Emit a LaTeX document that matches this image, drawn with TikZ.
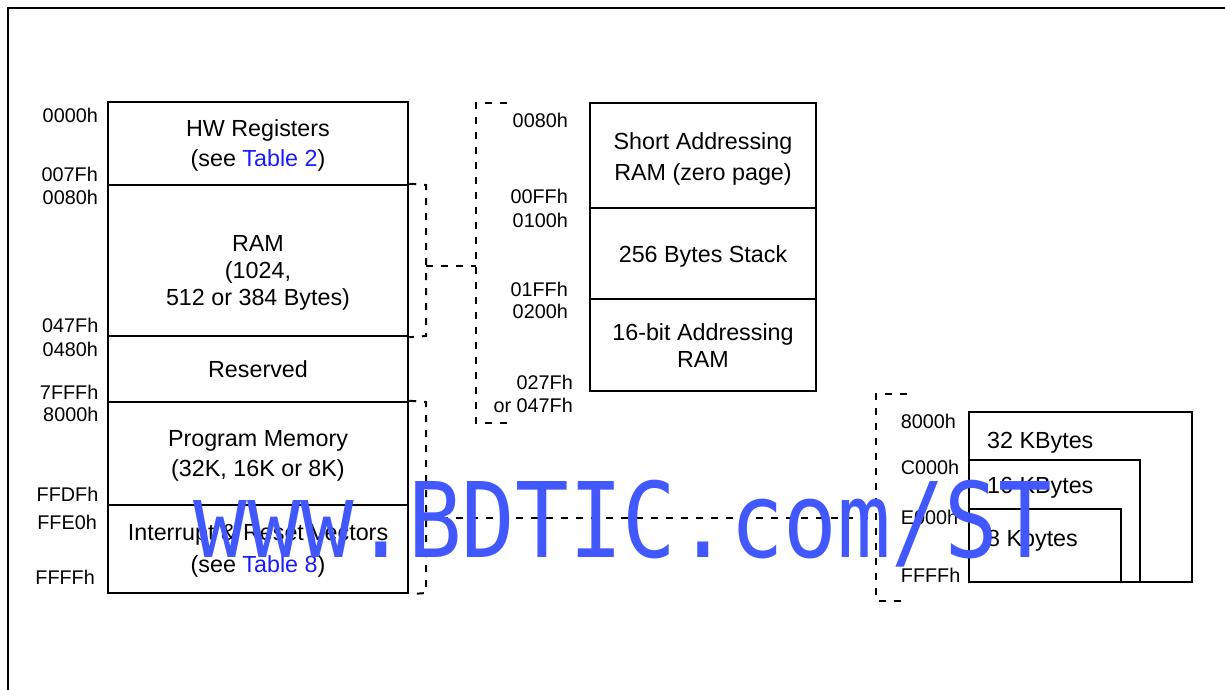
\documentclass[tikz,border=0pt]{standalone}
\usepackage{fontspec}
\usepackage{graphicx}
\setmainfont{Liberation Sans}
\newfontfamily\wmfont{DejaVu Sans Mono}
\definecolor{linkblue}{RGB}{26,26,255}
\definecolor{wmblue}{RGB}{66,88,255}
\begin{document}
\begin{tikzpicture}[x=1pt,y=-1pt,
  boxonly/.style={draw,line width=2.5pt,inner sep=0pt},
  addr/.style={inner sep=0pt,font=\fontsize{19.8}{22}\selectfont},
  txt/.style={inner sep=0pt,align=center,font=\fontsize{23.3}{30.5}\selectfont},
  dashline/.style={line width=2pt,dash pattern=on 7pt off 8pt},
  frameline/.style={line width=2pt}]
\useasboundingbox (0,0) rectangle (1225,690);
% frame
\coordinate (fbl) at (8,690);
\coordinate (ftl) at (8,8);
\coordinate (ftr) at (1225,8);
\draw[frameline] (fbl) -- (ftl) -- (ftr);

% left column
\node[boxonly,minimum width=300pt,minimum height=83pt] (hw) at (258,143.5) {};
\node[txt,yshift=-2pt] (hwtext) at (hw) {HW Registers\\(see \textcolor{linkblue}{Table 2})};
\node[boxonly,minimum width=300pt,minimum height=151pt] (ram) at (258,260.5) {};
\node[txt,font=\fontsize{23.3}{27}\selectfont] (ramtext) at (258,273)
  {RAM\\(1024,\\512 or 384 Bytes)};
\node[boxonly,minimum width=300pt,minimum height=66pt] (res) at (258,369) {};
\node[txt,yshift=-0.5pt] (restext) at (res) {Reserved};
\node[boxonly,minimum width=300pt,minimum height=103pt] (prog) at (258,453.5) {};
\node[txt,yshift=-2.5pt] (progtext) at (prog) {Program Memory\\(32K, 16K or 8K)};
\node[boxonly,minimum width=300pt,minimum height=88pt] (intr) at (258,549) {};
\node[txt,yshift=-2pt,font=\fontsize{23.3}{31.5}\selectfont] (intrtext) at (intr)
  {Interrupt \& Reset Vectors\\(see \textcolor{linkblue}{Table 8})};

% left addresses
\node[addr,anchor=east] (a0000) at (98,115.5) {0000h};
\node[addr,anchor=east] (a007F) at (98,174) {007Fh};
\node[addr,anchor=east] (a0080) at (98,197) {0080h};
\node[addr,anchor=east] (a047F) at (98.5,325.5) {047Fh};
\node[addr,anchor=east] (a0480) at (98,349) {0480h};
\node[addr,anchor=east] (a7FFF) at (98.5,392) {7FFFh};
\node[addr,anchor=east] (a8000) at (98.5,414.5) {8000h};
\node[addr,anchor=east] (aFFDF) at (98.5,494) {FFDFh};
\node[addr,anchor=east] (aFFE0) at (97,522) {FFE0h};
\node[addr,anchor=east] (aFFFF) at (95,577) {FFFFh};

% middle column
\node[boxonly,minimum width=226pt,minimum height=105pt] (short) at (703,155.5) {};
\node[txt,yshift=-3pt,font=\fontsize{23.3}{31}\selectfont] (shorttext) at (short)
  {Short Addressing\\RAM (zero page)};
\node[boxonly,minimum width=226pt,minimum height=91pt] (stack) at (703,253.5) {};
\node[txt,yshift=-3pt] (stacktext) at (stack) {256 Bytes Stack};
\node[boxonly,minimum width=226pt,minimum height=92pt] (bit16) at (703,345) {};
\node[txt,yshift=-0.5pt,font=\fontsize{23.3}{26.7}\selectfont] (bit16text) at (bit16)
  {16-bit Addressing\\RAM};

% middle addresses
\node[addr,anchor=east] (m0080) at (568,120) {0080h};
\node[addr,anchor=east] (m00FF) at (568,196) {00FFh};
\node[addr,anchor=east] (m0100) at (568,220) {0100h};
\node[addr,anchor=east] (m01FF) at (568,289) {01FFh};
\node[addr,anchor=east] (m0200) at (568,311) {0200h};
\node[addr,anchor=east] (m027F) at (573,382) {027Fh};
\node[addr,anchor=east] (m047F) at (573,405.5) {or 047Fh};

% right nested boxes
\node[boxonly,minimum width=223pt,minimum height=170pt] (k32) at (1080.5,497) {};
\node[boxonly,minimum width=171pt,minimum height=122pt] (k16) at (1054.5,521) {};
\node[boxonly,minimum width=152pt,minimum height=73pt] (k8) at (1045,545.5) {};
\node[txt,anchor=base west] (t32) at (987,448.3) {32 KBytes};
\node[txt,anchor=base west] (t16) at (987,493.3) {16 KBytes};
\node[txt,anchor=base west] (t8) at (987,546.7) {8 Kbytes};

% right addresses
\node[addr,anchor=west] (r8000) at (900.7,421.7) {8000h};
\node[addr,anchor=west] (rC000) at (900.7,467) {C000h};
\node[addr,anchor=west] (rE000) at (900.7,517) {E000h};
\node[addr,anchor=west] (rFFFF) at (900.7,575.5) {FFFFh};

% brackets
\coordinate (bAt) at (426,185);
\coordinate (bAb) at (426,336);
\coordinate (bAm) at (426,265.7);
\coordinate (bMm) at (476,265.7);
\coordinate (bMtr) at (507,103);
\coordinate (bMt) at (476,103);
\coordinate (bMb) at (476,423);
\coordinate (bMbr) at (507,423);
\coordinate (bPt) at (426,402);
\coordinate (bPb) at (426,593);
\coordinate (bPm) at (426,518);
\coordinate (bRm) at (876,518);
\coordinate (bRtr) at (906.7,394);
\coordinate (bRt) at (876,394);
\coordinate (bRb) at (876,600.7);
\coordinate (bRbr) at (906.7,600.7);

\draw[dashline] (ram.north east) -- (bAt) -- (bAb) -- (ram.south east);
\draw[dashline] (bAm) -- (bMm);
\draw[dashline] (bMtr) -- (bMt) -- (bMb) -- (bMbr);
\draw[dashline] (prog.north east) -- (bPt) -- (bPb) -- (intr.south east);
\draw[dashline] (bPm) -- (bRm);
\draw[dashline] (bRtr) -- (bRt) -- (bRb) -- (bRbr);

% watermark
\node[inner sep=0pt,anchor=base west,text=wmblue] (wm) at (193.5,557)
  {\scalebox{1}[1.17]{\wmfont\fontsize{89.1}{90}\selectfont www.BDTIC.com/ST}};
\end{tikzpicture}
\end{document}
